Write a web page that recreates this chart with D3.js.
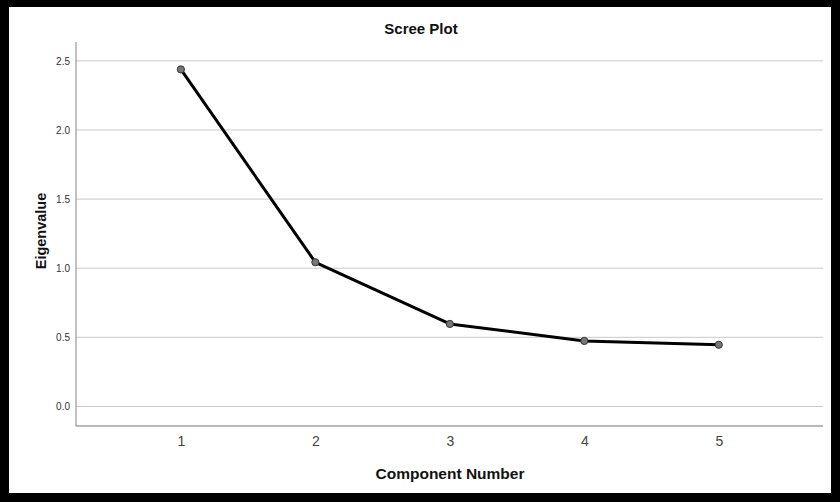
<!DOCTYPE html>
<html>
<head>
<meta charset="utf-8">
<script src="https://cdn.jsdelivr.net/npm/d3@7"></script>
<style>
  body { margin: 0; background: #000; }
  svg { display: block; font-family: "Liberation Sans", Arial, sans-serif; }
</style>
</head>
<body>
<div id="chart"></div>
<script>
// scree plot data
const components = [1, 2, 3, 4, 5];
const eigenvalues = [2.438, 1.043, 0.597, 0.474, 0.446];
const yTicks = [0.0, 0.5, 1.0, 1.5, 2.0, 2.5];

const W = 840, H = 502;
const plot = { left: 76, right: 823, top: 42, bottom: 426 };

let svg = d3.select("#chart")
    .append("svg")
    .attr("width", W)
    .attr("height", H);

// black frame, white panel
svg.append("rect").attr("width", W).attr("height", H).attr("fill", "#000");
svg.append("rect")
    .attr("x", 9).attr("y", 7)
    .attr("width", 822).attr("height", 486)
    .attr("fill", "#fff");

let xScale = d3.scaleLinear()
    .domain([0.22, 5.775])
    .range([plot.left, plot.right]);

let yScale = d3.scaleLinear()
    .domain([-0.1415, 2.6365])
    .range([plot.bottom, plot.top]);

// gridlines
svg.append("g")
    .selectAll("line")
    .data(yTicks)
    .enter()
    .append("line")
    .attr("x1", plot.left).attr("x2", plot.right)
    .attr("y1", d => yScale(d)).attr("y2", d => yScale(d))
    .attr("stroke", "#c8c8c8")
    .attr("stroke-width", 1);

// y axis
let yAxis = svg.append("g")
    .attr("transform", "translate(" + plot.left + ",0)")
    .call(d3.axisLeft(yScale).tickValues(yTicks).tickFormat(d3.format(".1f")).tickSize(0).tickPadding(6));
yAxis.select(".domain").remove();
yAxis.selectAll("text")
    .style("font-size", "10px")
    .style("fill", "#333")
    .style("font-family", "Liberation Sans, Arial, sans-serif");

// x axis
let xAxis = svg.append("g")
    .attr("transform", "translate(0," + plot.bottom + ")")
    .call(d3.axisBottom(xScale).tickValues(components).tickFormat(d3.format("d")).tickSize(0).tickPadding(10));
xAxis.select(".domain").remove();
xAxis.selectAll("text")
    .style("font-size", "14px")
    .style("fill", "#444")
    .style("font-family", "Liberation Sans, Arial, sans-serif");

// axis lines
svg.append("line")
    .attr("x1", plot.left).attr("x2", plot.left)
    .attr("y1", plot.top).attr("y2", plot.bottom)
    .attr("stroke", "#999").attr("stroke-width", 1.2);
svg.append("line")
    .attr("x1", plot.left).attr("x2", plot.right)
    .attr("y1", plot.bottom).attr("y2", plot.bottom)
    .attr("stroke", "#777").attr("stroke-width", 1.2);

const pts = components.map((c, i) => ({ x: c, y: eigenvalues[i] }));

// line
svg.append("path")
    .datum(pts)
    .attr("fill", "none")
    .attr("stroke", "#000")
    .attr("stroke-width", 3)
    .attr("stroke-linejoin", "round")
    .attr("d", d3.line().x(d => xScale(d.x)).y(d => yScale(d.y)));

// markers
svg.append("g")
    .selectAll("circle")
    .data(pts)
    .enter()
    .append("circle")
    .attr("cx", d => xScale(d.x))
    .attr("cy", d => yScale(d.y))
    .attr("r", 3.6)
    .attr("fill", "#777")
    .attr("stroke", "#333")
    .attr("stroke-width", 1);

// titles
svg.append("text")
    .attr("x", 421).attr("y", 34)
    .attr("text-anchor", "middle")
    .style("font-size", "15px")
    .style("font-weight", "bold")
    .style("fill", "#111")
    .text("Scree Plot");

svg.append("text")
    .attr("x", 450).attr("y", 479)
    .attr("text-anchor", "middle")
    .style("font-size", "15.5px")
    .style("font-weight", "bold")
    .style("fill", "#111")
    .text("Component Number");

svg.append("text")
    .attr("transform", "translate(46,231) rotate(-90)")
    .attr("text-anchor", "middle")
    .style("font-size", "14.5px")
    .style("font-weight", "bold")
    .style("fill", "#111")
    .text("Eigenvalue");
</script>
</body>
</html>
